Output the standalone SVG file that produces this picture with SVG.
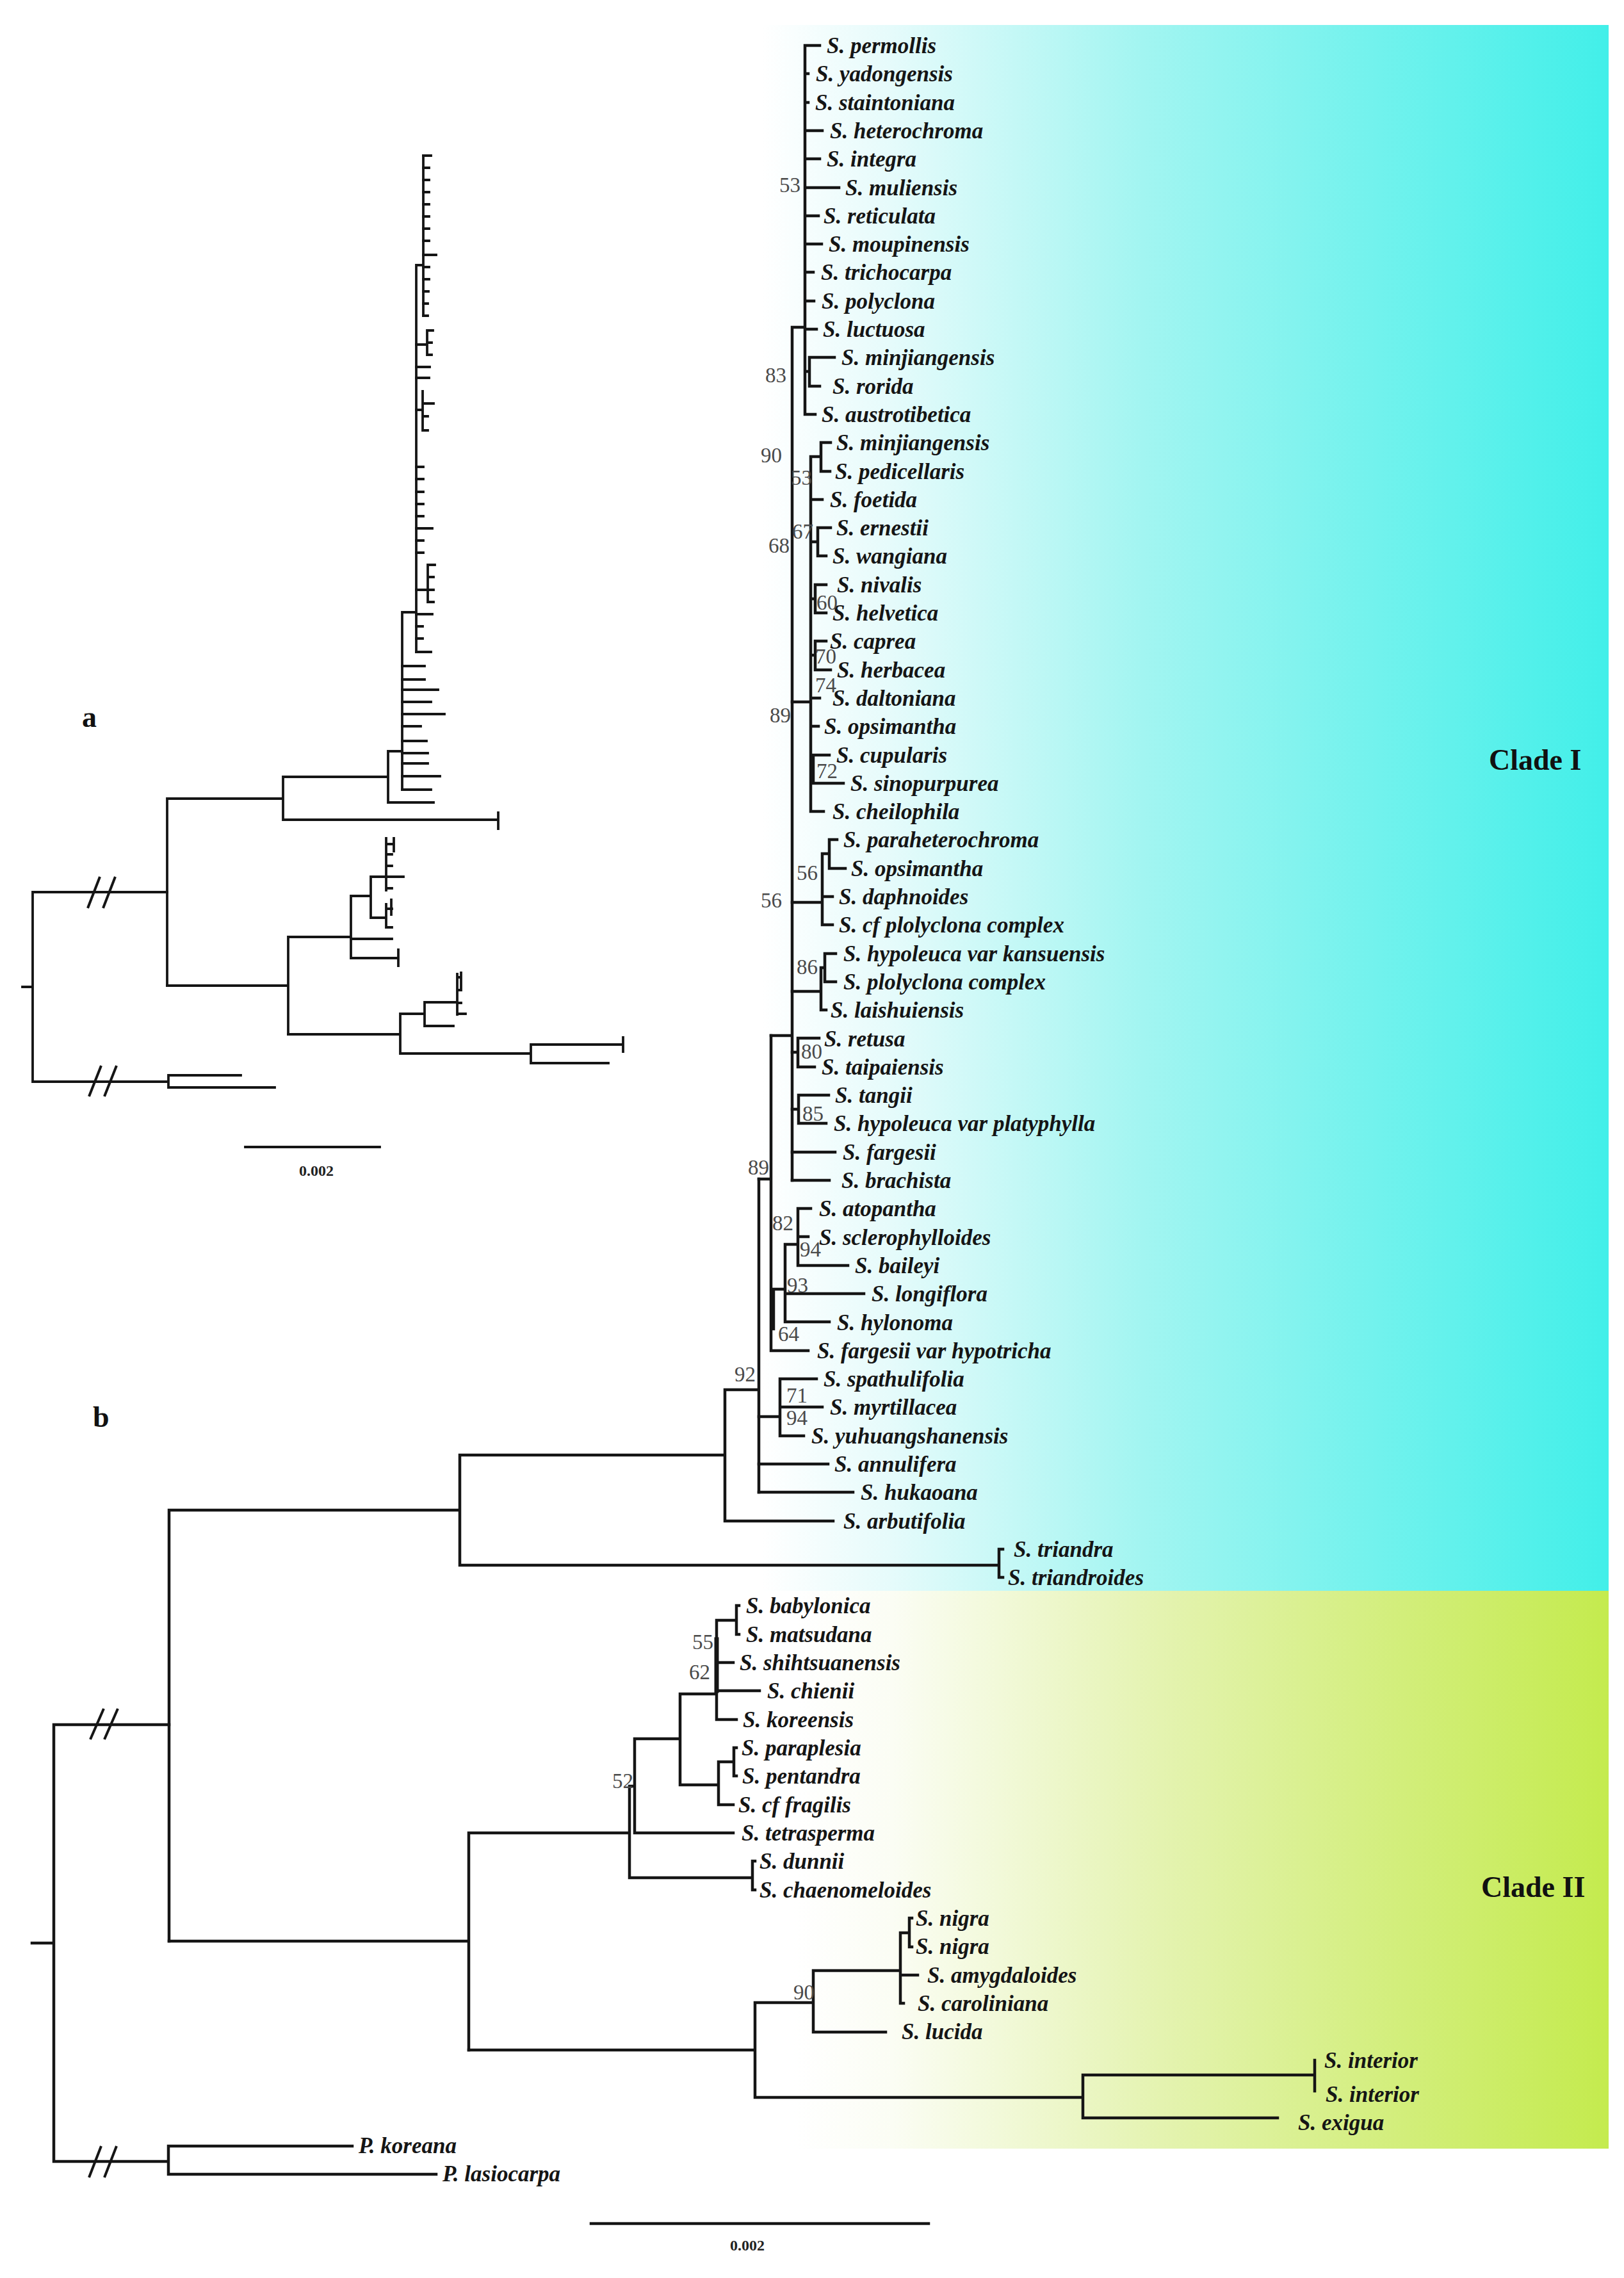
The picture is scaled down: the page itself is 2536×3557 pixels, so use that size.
<svg xmlns="http://www.w3.org/2000/svg" width="2536" height="3557" viewBox="0 0 2536 3557">
<style>
.br{stroke:#151515;stroke-width:4.5;fill:none;stroke-linecap:square}
.bra{stroke:#151515;stroke-width:3.8;fill:none;stroke-linecap:square}
.slash{stroke:#151515;stroke-width:4;fill:none}
.leaf{font-family:"Liberation Serif",serif;font-style:italic;font-weight:bold;font-size:35px;fill:#151515}
.bs{font-family:"Liberation Serif",serif;font-size:33px;fill:#4a4a4a;text-anchor:end}
.clade{font-family:"Liberation Serif",serif;font-weight:bold;font-size:46px;fill:#111}
.panel{font-family:"Liberation Serif",serif;font-weight:bold;font-size:46px;fill:#111}
.scale{font-family:"Liberation Serif",serif;font-weight:bold;font-size:24px;fill:#222;text-anchor:middle}
</style>
<defs>
<linearGradient id="cyan" x1="0" y1="0" x2="1" y2="0">
<stop offset="0" stop-color="#ffffff"/>
<stop offset="0.15" stop-color="#e6fbfb"/>
<stop offset="0.45" stop-color="#a2f5f1"/>
<stop offset="1" stop-color="#42efe9"/>
</linearGradient>
<linearGradient id="green" x1="0" y1="0" x2="1" y2="0">
<stop offset="0" stop-color="#ffffff"/>
<stop offset="0.12" stop-color="#fbfdf4"/>
<stop offset="0.45" stop-color="#e4f3b0"/>
<stop offset="0.75" stop-color="#d2ee7a"/>
<stop offset="1" stop-color="#c4eb4e"/>
</linearGradient>
</defs>
<rect width="2536" height="3557" fill="#ffffff"/>
<g id="backgrounds">
<rect x="1190" y="39" width="1322" height="2445" fill="url(#cyan)"/>
<rect x="1240" y="2484" width="1272" height="871" fill="url(#green)"/>
</g>
<g id="clade-labels">
<g id="clade-1"><text class="clade" x="2325" y="1202">Clade I</text></g>
<g id="clade-2"><text class="clade" x="2313" y="2962">Clade II</text></g>
</g>
<g id="panel-labels">
<g id="panel-a"><text class="panel" x="128" y="1135">a</text></g>
<g id="panel-b"><text class="panel" x="145" y="2228">b</text></g>
</g>
<g id="connectors-a">
<path class="bra" d="M35 1541H51M51 1393V1689M51 1393H261M51 1689H263M263 1679V1698M263 1679H376M263 1698H429"/>
<path class="slash" d="M137 1418L156 1369M161 1418L180 1369M139 1712L158 1664M163 1712L182 1664"/>
<path class="bra" d="M261 1247V1539M261 1247H442M442 1213V1280M442 1280H778M778 1269V1294M442 1213H606M606 1173V1253M606 1253H677M606 1173H628"/>
<path class="bra" d="M628 956V1233M628 956H650M650 414V1018M650 414H661M661 243V493"/>
<path class="bra" d="M661 243H673M661 262H670M661 281H670M661 300H670M661 319H670M661 338H670M661 357H670M661 376H670M661 398H681M661 417H670M661 436H670M661 455H669M661 474H668M661 493H668"/>
<path class="bra" d="M650 538H667M667 516V554M667 516H676M667 535H674M667 554H674M650 573H671M650 590H670M650 640H660M660 611V672M660 630H677M660 650H668M660 672H668"/>
<path class="bra" d="M650 729H661M650 748H661M650 768H661M650 787H661M650 806H661M650 825H675M650 844H661M650 863H661M650 921H668M668 882V940M668 882H679M668 901H677M668 921H677M668 940H677M650 959H675M650 978H660M650 997H660M650 1018H673"/>
<path class="bra" d="M628 1040H663M628 1061H663M628 1077H684M628 1096H673M628 1115H694M628 1134H657M628 1157H666M628 1176H668M628 1192H668M628 1212H687M628 1233H673"/>
<path class="bra" d="M261 1539H450M450 1463V1615M450 1463H548M548 1399V1496M548 1399H579M579 1369V1433M579 1369H603M603 1309V1390M603 1318H615M615 1309V1329M603 1334H612M603 1352H612M603 1369H630M603 1387H612M579 1433H603M603 1412V1448M603 1419H612M611 1405V1428M603 1448H612M548 1466H612M548 1496H622M622 1483V1508"/>
<path class="bra" d="M450 1615H625M625 1583V1645M625 1583H663M663 1565V1602M663 1565H714M714 1521V1584M714 1526H720M720 1519V1544M714 1546H720M714 1566H720M714 1583H727M663 1602H708M625 1645H829M829 1631V1660M829 1631H973M973 1620V1642M829 1660H950"/>
<path class="bra" d="M383 1791H593"/>
</g>
<g id="scale-a"><text class="scale" x="494" y="1836">0.002</text></g>
<g id="connectors-b">
<path class="br" d="M50 3034H84M84 2693V3375M84 2693H264M84 3375H263M263 3351V3395M263 3351H550M263 3395H681"/>
<path class="slash" d="M141 2716L162 2668M163 2716L184 2668M139 3400L158 3351M163 3400L182 3351"/>
<path class="br" d="M264 2358V3031M264 2358H718M718 2272V2444M718 2444H1560M1560 2419V2463M1560 2419H1566M1560 2463H1566M718 2272H1132M1132 2170V2375M1132 2375H1301M1132 2170H1185M1185 1841V2330"/>
<path class="br" d="M1185 2212H1218M1218 2153V2242M1218 2153H1275M1218 2197H1284M1218 2242H1255M1185 2286H1293M1185 2330H1332"/>
<path class="br" d="M1185 1841H1204M1204 1617V2109M1208 2013V2075M1204 2013H1226M1204 2109H1262M1226 1943V2064M1226 1943H1246M1226 2020H1349M1226 2064H1295M1246 1887V1976M1246 1887H1266M1246 1931H1262M1246 1976H1324"/>
<path class="br" d="M1204 1617H1237M1237 511V1843M1237 511H1257M1257 71V647M1257 71H1280M1257 115H1262M1257 160H1262M1257 204H1284M1257 248H1280M1257 293H1310M1257 337H1278M1257 381H1283M1257 425H1270M1257 470H1271M1257 514H1275M1257 580H1264M1264 558V603M1264 558H1303M1264 603H1280M1257 647H1273"/>
<path class="br" d="M1237 1096H1266M1266 713V1267M1266 713H1282M1282 691V736M1282 691H1297M1282 736H1296M1266 780H1284M1266 846H1277M1277 824V868M1277 824H1297M1277 868H1290M1266 935H1273M1273 913V957M1273 913H1290M1273 957H1290M1266 1023H1273M1273 1001V1046M1273 1001H1290M1273 1046H1297M1266 1090H1280M1266 1134H1278M1266 1201H1270M1270 1179V1223M1270 1179H1295M1270 1223H1317M1266 1267H1286"/>
<path class="br" d="M1237 1409H1284M1284 1333V1444M1284 1333H1295M1295 1311V1356M1295 1311H1307M1295 1356H1320M1284 1400H1300M1284 1444H1300M1237 1548H1282M1282 1511V1577M1282 1511H1288M1288 1489V1533M1288 1489H1305M1288 1533H1305M1282 1577H1290"/>
<path class="br" d="M1237 1643H1246M1246 1621V1666M1246 1621H1279M1246 1666H1272M1237 1732H1247M1247 1710V1754M1247 1710H1294M1247 1754H1290M1237 1799H1304M1237 1843H1295"/>
<path class="br" d="M264 3031H732M732 2862V3201M732 2862H983M983 2789V2932M983 2789H991M991 2715V2862M991 2862H1145M991 2715H1062M1062 2645V2787M1062 2645H1119M1119 2530V2685M1119 2530H1150M1150 2507V2552M1150 2507H1154M1150 2552H1154M1119 2596H1145M1119 2640H1186M1119 2685H1150M1062 2787H1122M1122 2751V2818M1122 2751H1146M1146 2729V2773M1146 2729H1150M1146 2773H1150M1122 2818H1145M983 2932H1175M1175 2906V2951M1175 2906H1179M1175 2951H1179"/>
<path class="br" d="M732 3201H1179M1179 3127V3275M1179 3127H1270M1270 3077V3173M1270 3077H1406M1406 3018V3128M1406 3018H1420M1420 2995V3040M1420 2995H1424M1420 3040H1424M1406 3084H1433M1406 3128H1411M1270 3173H1383M1179 3275H1691M1691 3240V3307M1691 3240H2053M2053 3217V3265M1691 3307H1995"/>
<path class="br" style="stroke-width:7" d="M1119 2560V2640"/>
<path class="br" d="M923 3472H1450"/>
</g>
<g id="scale-b"><text class="scale" x="1167" y="3514">0.002</text></g>
<g id="leaves">
<g id="l0"><text class="leaf" x="1291" y="83">S. permollis</text></g>
<g id="l1"><text class="leaf" x="1274" y="127">S. yadongensis</text></g>
<g id="l2"><text class="leaf" x="1273" y="172">S. staintoniana</text></g>
<g id="l3"><text class="leaf" x="1296" y="216">S. heterochroma</text></g>
<g id="l4"><text class="leaf" x="1291" y="260">S. integra</text></g>
<g id="l5"><text class="leaf" x="1320" y="305">S. muliensis</text></g>
<g id="l6"><text class="leaf" x="1286" y="349">S. reticulata</text></g>
<g id="l7"><text class="leaf" x="1294" y="393">S. moupinensis</text></g>
<g id="l8"><text class="leaf" x="1282" y="437">S. trichocarpa</text></g>
<g id="l9"><text class="leaf" x="1283" y="482">S. polyclona</text></g>
<g id="l10"><text class="leaf" x="1285" y="526">S. luctuosa</text></g>
<g id="l11"><text class="leaf" x="1314" y="570">S. minjiangensis</text></g>
<g id="l12"><text class="leaf" x="1300" y="615">S. rorida</text></g>
<g id="l13"><text class="leaf" x="1283" y="659">S. austrotibetica</text></g>
<g id="l14"><text class="leaf" x="1306" y="703">S. minjiangensis</text></g>
<g id="l15"><text class="leaf" x="1304" y="748">S. pedicellaris</text></g>
<g id="l16"><text class="leaf" x="1296" y="792">S. foetida</text></g>
<g id="l17"><text class="leaf" x="1306" y="836">S. ernestii</text></g>
<g id="l18"><text class="leaf" x="1300" y="880">S. wangiana</text></g>
<g id="l19"><text class="leaf" x="1307" y="925">S. nivalis</text></g>
<g id="l20"><text class="leaf" x="1300" y="969">S. helvetica</text></g>
<g id="l21"><text class="leaf" x="1296" y="1013">S. caprea</text></g>
<g id="l22"><text class="leaf" x="1307" y="1058">S. herbacea</text></g>
<g id="l23"><text class="leaf" x="1300" y="1102">S. daltoniana</text></g>
<g id="l24"><text class="leaf" x="1287" y="1146">S. opsimantha</text></g>
<g id="l25"><text class="leaf" x="1306" y="1191">S. cupularis</text></g>
<g id="l26"><text class="leaf" x="1328" y="1235">S. sinopurpurea</text></g>
<g id="l27"><text class="leaf" x="1300" y="1279">S. cheilophila</text></g>
<g id="l28"><text class="leaf" x="1317" y="1323">S. paraheterochroma</text></g>
<g id="l29"><text class="leaf" x="1329" y="1368">S. opsimantha</text></g>
<g id="l30"><text class="leaf" x="1310" y="1412">S. daphnoides</text></g>
<g id="l31"><text class="leaf" x="1310" y="1456">S. cf plolyclona complex</text></g>
<g id="l32"><text class="leaf" x="1317" y="1501">S. hypoleuca var kansuensis</text></g>
<g id="l33"><text class="leaf" x="1317" y="1545">S. plolyclona complex</text></g>
<g id="l34"><text class="leaf" x="1297" y="1589">S. laishuiensis</text></g>
<g id="l35"><text class="leaf" x="1287" y="1634">S. retusa</text></g>
<g id="l36"><text class="leaf" x="1283" y="1678">S. taipaiensis</text></g>
<g id="l37"><text class="leaf" x="1304" y="1722">S. tangii</text></g>
<g id="l38"><text class="leaf" x="1302" y="1766">S. hypoleuca var platyphylla</text></g>
<g id="l39"><text class="leaf" x="1316" y="1811">S. fargesii</text></g>
<g id="l40"><text class="leaf" x="1314" y="1855">S. brachista</text></g>
<g id="l41"><text class="leaf" x="1279" y="1899">S. atopantha</text></g>
<g id="l42"><text class="leaf" x="1279" y="1944">S. sclerophylloides</text></g>
<g id="l43"><text class="leaf" x="1335" y="1988">S. baileyi</text></g>
<g id="l44"><text class="leaf" x="1361" y="2032">S. longiflora</text></g>
<g id="l45"><text class="leaf" x="1307" y="2077">S. hylonoma</text></g>
<g id="l46"><text class="leaf" x="1276" y="2121">S. fargesii var hypotricha</text></g>
<g id="l47"><text class="leaf" x="1286" y="2165">S. spathulifolia</text></g>
<g id="l48"><text class="leaf" x="1296" y="2209">S. myrtillacea</text></g>
<g id="l49"><text class="leaf" x="1267" y="2254">S. yuhuangshanensis</text></g>
<g id="l50"><text class="leaf" x="1303" y="2298">S. annulifera</text></g>
<g id="l51"><text class="leaf" x="1344" y="2342">S. hukaoana</text></g>
<g id="l52"><text class="leaf" x="1317" y="2387">S. arbutifolia</text></g>
<g id="l53"><text class="leaf" x="1583" y="2431">S. triandra</text></g>
<g id="l54"><text class="leaf" x="1574" y="2475">S. triandroides</text></g>
<g id="l55"><text class="leaf" x="1165" y="2519">S. babylonica</text></g>
<g id="l56"><text class="leaf" x="1165" y="2564">S. matsudana</text></g>
<g id="l57"><text class="leaf" x="1155" y="2608">S. shihtsuanensis</text></g>
<g id="l58"><text class="leaf" x="1198" y="2652">S. chienii</text></g>
<g id="l59"><text class="leaf" x="1160" y="2697">S. koreensis</text></g>
<g id="l60"><text class="leaf" x="1158" y="2741">S. paraplesia</text></g>
<g id="l61"><text class="leaf" x="1159" y="2785">S. pentandra</text></g>
<g id="l62"><text class="leaf" x="1153" y="2830">S. cf fragilis</text></g>
<g id="l63"><text class="leaf" x="1158" y="2874">S. tetrasperma</text></g>
<g id="l64"><text class="leaf" x="1186" y="2918">S. dunnii</text></g>
<g id="l65"><text class="leaf" x="1186" y="2963">S. chaenomeloides</text></g>
<g id="l66"><text class="leaf" x="1430" y="3007">S. nigra</text></g>
<g id="l67"><text class="leaf" x="1430" y="3051">S. nigra</text></g>
<g id="l68"><text class="leaf" x="1448" y="3096">S. amygdaloides</text></g>
<g id="l69"><text class="leaf" x="1433" y="3140">S. caroliniana</text></g>
<g id="l70"><text class="leaf" x="1408" y="3184">S. lucida</text></g>
<g id="l71"><text class="leaf" x="2068" y="3229">S. interior</text></g>
<g id="l72"><text class="leaf" x="2070" y="3282">S. interior</text></g>
<g id="l73"><text class="leaf" x="2027" y="3326">S. exigua</text></g>
<g id="l74"><text class="leaf" x="560" y="3362">P. koreana</text></g>
<g id="l75"><text class="leaf" x="691" y="3406">P. lasiocarpa</text></g>
</g>
<g id="support-values">
<text class="bs" x="1250" y="300">53</text>
<text class="bs" x="1228" y="597">83</text>
<text class="bs" x="1221" y="722">90</text>
<text class="bs" x="1268" y="757">53</text>
<text class="bs" x="1270" y="841">67</text>
<text class="bs" x="1233" y="863">68</text>
<text class="bs" x="1308" y="952">60</text>
<text class="bs" x="1306" y="1036">70</text>
<text class="bs" x="1306" y="1081">74</text>
<text class="bs" x="1235" y="1128">89</text>
<text class="bs" x="1308" y="1215">72</text>
<text class="bs" x="1277" y="1374">56</text>
<text class="bs" x="1221" y="1417">56</text>
<text class="bs" x="1277" y="1521">86</text>
<text class="bs" x="1284" y="1653">80</text>
<text class="bs" x="1286" y="1750">85</text>
<text class="bs" x="1201" y="1834">89</text>
<text class="bs" x="1239" y="1921">82</text>
<text class="bs" x="1282" y="1962">94</text>
<text class="bs" x="1262" y="2018">93</text>
<text class="bs" x="1248" y="2094">64</text>
<text class="bs" x="1180" y="2157">92</text>
<text class="bs" x="1261" y="2190">71</text>
<text class="bs" x="1261" y="2225">94</text>
<text class="bs" x="1114" y="2575">55</text>
<text class="bs" x="1109" y="2622">62</text>
<text class="bs" x="989" y="2792">52</text>
<text class="bs" x="1272" y="3122">90</text>
</g>
</svg>
